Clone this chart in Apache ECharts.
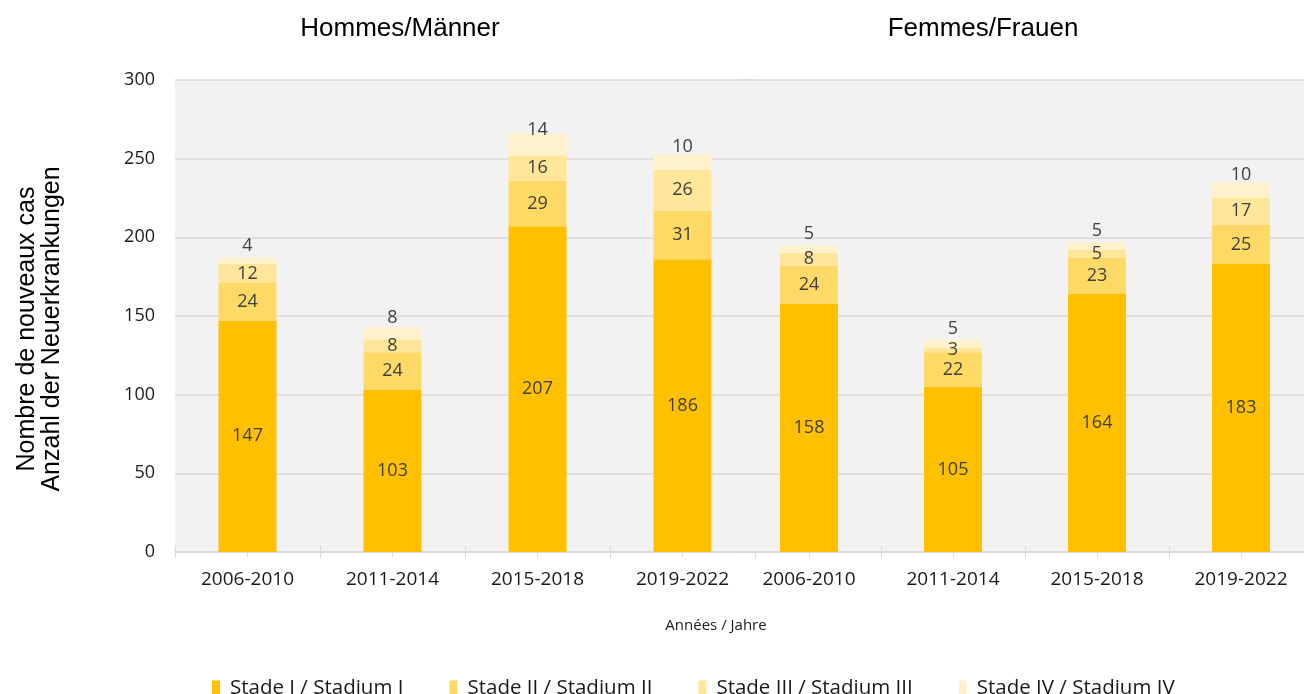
<!DOCTYPE html>
<html>
<head>
<meta charset="utf-8">
<script src="https://cdn.jsdelivr.net/npm/echarts@6/dist/echarts.min.js"></script>
<style>
  html, body { margin: 0; padding: 0; background: #ffffff; overflow: hidden; }
  /* un peu plus large que la fenêtre : le graphique de droite est coupé */
  #chart { width: 1320px; height: 694px; }
</style>
</head>
<body>
<div id="chart"></div>
<script>
// catégories / Kategorien
var periods = ['2006-2010', '2011-2014', '2015-2018', '2019-2022'];
var stageNames = ['Stade I / Stadium I', 'Stade II / Stadium II', 'Stade III / Stadium III', 'Stade IV / Stadium IV'];
var yTicks = [0, 50, 100, 150, 200, 250, 300];

// Hommes / Männer
var menStage1 = [147, 103, 207, 186];
var menStage2 = [24, 24, 29, 31];
var menStage3 = [12, 8, 16, 26];
var menStage4 = [4, 8, 14, 10];

// Femmes / Frauen
var womenStage1 = [158, 105, 164, 183];
var womenStage2 = [24, 22, 23, 25];
var womenStage3 = [8, 3, 5, 17];
var womenStage4 = [5, 5, 5, 10];

var stageColors = ['#ffc000', '#ffd966', '#ffe699', '#fff2cc'];
var labelFont = '"Open Sans", "Noto Sans", sans-serif';
var arialFont = '"Liberation Sans", Arial, sans-serif';

var myChart = echarts.init(document.getElementById('chart'));

// trois axes x par graphique : étiquettes + graduations
function makeXAxes(gridIndex) {
    var z = gridIndex === 1 ? 4 : 0;
    var base = {
        type: 'category',
        gridIndex: gridIndex,
        position: 'bottom',
        data: periods,
        boundaryGap: true,
        z: z
    };
    var boundaryInterval = gridIndex === 1 ? function (i) { return i !== 0; } : 0;
    return [
        Object.assign({}, base, {
            axisLine: { show: true, lineStyle: { color: '#d9d9d9', width: 1.5 } },
            axisTick: { show: true, length: 6, interval: boundaryInterval, lineStyle: { color: '#d9d9d9' } },
            axisLabel: { margin: 18, fontSize: 19, color: '#1a1a1a', fontFamily: labelFont }
        }),
        Object.assign({}, base, {
            axisLine: { show: false },
            axisTick: { show: true, inside: true, length: 6, interval: boundaryInterval, lineStyle: { color: '#d9d9d9' } },
            axisLabel: { show: false }
        }),
        Object.assign({}, base, {
            axisLine: { show: false },
            axisTick: { show: true, alignWithLabel: true, length: 5, lineStyle: { color: '#d9d9d9' } },
            axisLabel: { show: false }
        })
    ];
}

function makeSeries(values, idx, gridIndex, stackName) {
    var label = {
        show: true,
        position: 'inside',
        color: '#404040',
        fontSize: 18,
        fontFamily: labelFont
    };
    if (idx === 3) {
        label.offset = [0, -15];
    }
    return {
        name: stageNames[idx],
        type: 'bar',
        stack: stackName,
        xAxisIndex: gridIndex * 3,
        yAxisIndex: gridIndex,
        data: values,
        barWidth: 58,
        z: gridIndex === 1 ? 5 : 2,
        itemStyle: { color: stageColors[idx] },
        label: label,
        emphasis: { disabled: true }
    };
}

var option = {
    animation: false,
    title: [
        { text: 'Hommes/Männer', left: 400, top: 16, textAlign: 'center', padding: 0,
          textStyle: { fontSize: 26, fontWeight: 'normal', color: '#000', fontFamily: arialFont } },
        { text: 'Femmes/Frauen', left: 983, top: 16, textAlign: 'center', padding: 0,
          textStyle: { fontSize: 26, fontWeight: 'normal', color: '#000', fontFamily: arialFont } },
        { text: 'Années / Jahre', left: 716, top: 618, textAlign: 'center', padding: 0,
          textStyle: { fontSize: 15, fontWeight: 'normal', color: '#1a1a1a', fontFamily: labelFont } }
    ],
    graphic: [{
        type: 'text',
        x: 40,
        y: 329,
        rotation: Math.PI / 2,
        style: {
            text: 'Nombre de nouveaux cas\nAnzahl der Neuerkrankungen',
            font: '25px "Liberation Sans", Arial, sans-serif',
            fill: '#000',
            align: 'center',
            verticalAlign: 'middle',
            lineHeight: 25
        }
    }],
    legend: {
        data: stageNames,
        left: 207,
        top: 673,
        icon: 'rect',
        itemWidth: 8,
        itemHeight: 16,
        itemGap: 46,
        textStyle: { fontSize: 20.5, color: '#1a1a1a', fontFamily: labelFont, padding: [0, 0, 0, 5] }
    },
    grid: [
        { left: 175, top: 80, width: 580, height: 472, show: true, backgroundColor: '#f2f2f2', borderWidth: 0 },
        { left: 737, top: 80, width: 576, height: 472, show: true, backgroundColor: '#f2f2f2', borderWidth: 0, z: 3 }
    ],
    xAxis: makeXAxes(0).concat(makeXAxes(1)),
    yAxis: [
        {
            type: 'value', gridIndex: 0, min: yTicks[0], max: yTicks[yTicks.length - 1], interval: 50,
            axisLine: { show: false },
            axisTick: { show: false },
            axisLabel: { margin: 20, fontSize: 18, color: '#1a1a1a', fontFamily: labelFont },
            splitLine: { lineStyle: { color: '#d9d9d9', width: 1.5 } }
        },
        {
            type: 'value', gridIndex: 1, min: yTicks[0], max: yTicks[yTicks.length - 1], interval: 50,
            z: 4,
            axisLine: { show: false },
            axisTick: { show: false },
            axisLabel: { show: false },
            splitLine: { lineStyle: { color: '#d9d9d9', width: 1.5 } }
        }
    ],
    series: [
        makeSeries(menStage1, 0, 0, 'men'),
        makeSeries(menStage2, 1, 0, 'men'),
        makeSeries(menStage3, 2, 0, 'men'),
        makeSeries(menStage4, 3, 0, 'men'),
        makeSeries(womenStage1, 0, 1, 'women'),
        makeSeries(womenStage2, 1, 1, 'women'),
        makeSeries(womenStage3, 2, 1, 'women'),
        makeSeries(womenStage4, 3, 1, 'women')
    ]
};

myChart.setOption(option);
</script>
</body>
</html>
